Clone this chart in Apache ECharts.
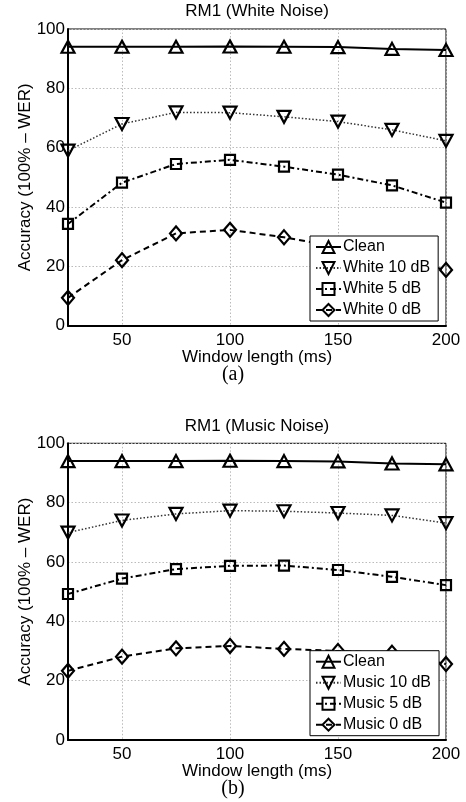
<!DOCTYPE html>
<html>
<head>
<meta charset="utf-8">
<script src="https://cdn.jsdelivr.net/npm/echarts@6/dist/echarts.min.js"></script>
<style>html,body{margin:0;padding:0;background:#fff}#c{width:466px;height:802px}</style>
</head>
<body>
<div id="c"></div>
<script>
const windowMs = [25, 50, 75, 100, 125, 150, 175, 200];
const xTicks = [50, 100, 150, 200];
const whiteClean = [94.0, 94.0, 94.0, 94.1, 94.0, 93.9, 93.3, 92.9];
const white10 = [59.0, 68.0, 71.9, 71.8, 70.4, 68.8, 66.0, 62.3];
const white5 = [34.3, 48.2, 54.5, 55.9, 53.6, 50.9, 47.3, 41.5];
const white0 = [9.4, 22.1, 31.1, 32.3, 29.8, 26.5, 23.0, 18.8];
const musicClean = [94.0, 94.0, 94.0, 94.1, 94.0, 93.9, 93.2, 92.9];
const music10 = [69.9, 74.0, 76.2, 77.3, 77.1, 76.5, 75.7, 73.1];
const music5 = [49.2, 54.4, 57.6, 58.7, 58.8, 57.3, 55.0, 52.2];
const music0 = [23.3, 28.1, 30.9, 31.7, 30.7, 30.0, 29.4, 25.6];
const whiteNames = ['Clean', 'White 10 dB', 'White 5 dB', 'White 0 dB'];
const musicNames = ['Clean', 'Music 10 dB', 'Music 5 dB', 'Music 0 dB'];

const FONT = 'Liberation Sans';
const styles = [
  {symbol: 'triangle', size: [13, 12], rot: 0, line: {type: 'solid', width: 2, color: '#000'}},
  {symbol: 'triangle', size: [13, 12], rot: 180, line: {type: [1.5, 2], width: 1.5, color: '#333'}},
  {symbol: 'rect', size: [10, 10], rot: 0, line: {type: [6, 3, 2, 3], width: 2, color: '#000'}},
  {symbol: 'diamond', size: [12, 14], rot: 0, line: {type: [6, 4], width: 2, color: '#000'}}
];

function pairs(vals) { return vals.map((v, i) => [windowMs[i], v]); }

function makeSeries(names, sets, idx) {
  return names.map((n, k) => ({
    name: n, type: 'line', xAxisIndex: idx, yAxisIndex: idx,
    data: pairs(sets[k]),
    symbol: styles[k].symbol, symbolSize: styles[k].size, symbolRotate: styles[k].rot,
    showAllSymbol: true, clip: false, animation: false,
    lineStyle: styles[k].line,
    itemStyle: {color: 'rgba(255,255,255,0)', borderColor: '#000', borderWidth: 2.2}
  }));
}

function xAxis(idx) {
  return {
    type: 'value', gridIndex: idx, min: 25, max: 200,
    name: 'Window length (ms)', nameLocation: 'middle', nameGap: 23, nameMoveOverlap: false,
    nameTextStyle: {fontFamily: FONT, fontSize: 17, color: '#000'},
    axisLine: {show: true, lineStyle: {color: '#000', width: 2}},
    axisTick: {show: false, customValues: xTicks},
    axisLabel: {customValues: xTicks, fontFamily: FONT, fontSize: 17, color: '#000', margin: 6},
    splitLine: {show: true, lineStyle: {color: '#bbb', type: [1.5, 2], width: 1}}
  };
}
function yAxis(idx) {
  return {
    type: 'value', gridIndex: idx, min: 0, max: 100, interval: 20,
    name: 'Accuracy (100% \u2013 WER)', nameLocation: 'middle', nameGap: 34, nameMoveOverlap: false,
    nameTextStyle: {fontFamily: FONT, fontSize: 17, color: '#000'},
    axisLine: {show: true, lineStyle: {color: '#000', width: 2}},
    axisTick: {show: false},
    axisLabel: {fontFamily: FONT, fontSize: 17, color: '#000', margin: 3},
    splitLine: {show: true, lineStyle: {color: '#bbb', type: [1.5, 2], width: 1}}
  };
}
function legend(names, top) {
  return {
    data: names, orient: 'vertical', left: 310, top: top,
    itemWidth: 25, itemHeight: 15, itemGap: 5,
    padding: [3, 8, 3, 5],
    backgroundColor: '#fff', borderColor: '#000', borderWidth: 1, borderRadius: 0,
    textStyle: {fontFamily: FONT, fontSize: 16, color: '#000', padding: [0, 0, 0, -3]},
    selectedMode: false
  };
}

const chart = echarts.init(document.getElementById('c'), null, {renderer: 'canvas'});
chart.setOption({
  backgroundColor: '#fff',
  animation: false,
  grid: [
    {left: 68, top: 29, width: 378, height: 296.7, show: true, borderColor: '#000', borderWidth: 1, backgroundColor: 'transparent'},
    {left: 68, top: 443.3, width: 378, height: 296.7, show: true, borderColor: '#000', borderWidth: 1, backgroundColor: 'transparent'}
  ],
  xAxis: [xAxis(0), xAxis(1)],
  yAxis: [yAxis(0), yAxis(1)],
  legend: [legend(whiteNames, 236), legend(musicNames, 650.7)],
  series: makeSeries(whiteNames, [whiteClean, white10, white5, white0], 0)
    .concat(makeSeries(musicNames, [musicClean, music10, music5, music0], 1)),
  graphic: [
    {type: 'text', x: 257, y: 11, style: {text: 'RM1 (White Noise)', font: '17px "Liberation Sans"', fill: '#000', textAlign: 'center', textVerticalAlign: 'middle'}},
    {type: 'text', x: 257, y: 426, style: {text: 'RM1 (Music Noise)', font: '17px "Liberation Sans"', fill: '#000', textAlign: 'center', textVerticalAlign: 'middle'}},
    {type: 'text', x: 233, y: 375, style: {text: '(a)', font: '20px "Liberation Serif"', fill: '#000', textAlign: 'center', textVerticalAlign: 'middle'}},
    {type: 'text', x: 233, y: 789, style: {text: '(b)', font: '20px "Liberation Serif"', fill: '#000', textAlign: 'center', textVerticalAlign: 'middle'}}
  ]
});
</script>
</body>
</html>
